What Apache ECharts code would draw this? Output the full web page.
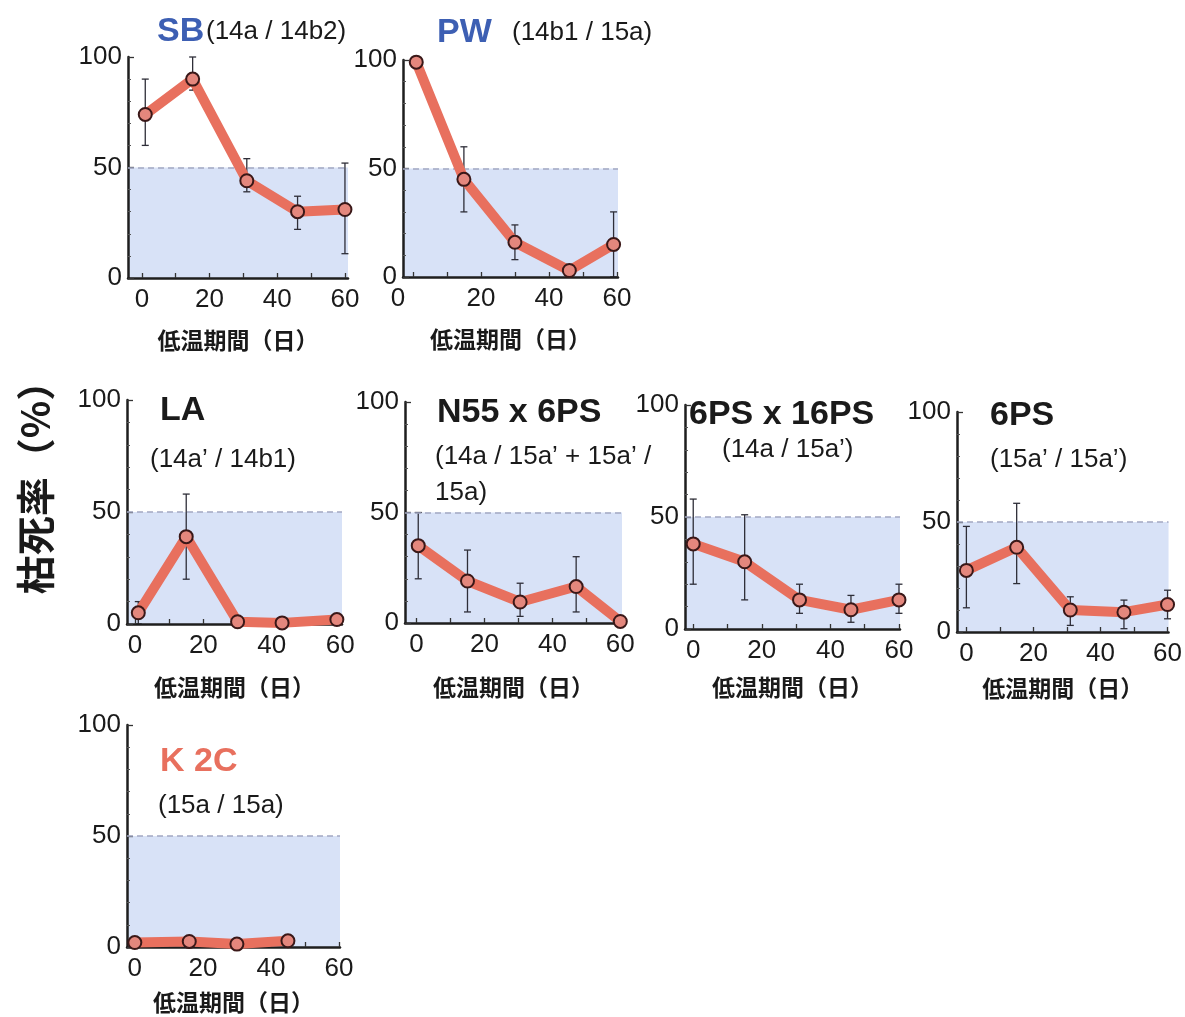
<!DOCTYPE html>
<html>
<head>
<meta charset="utf-8">
<script src="https://cdn.jsdelivr.net/npm/echarts@6/dist/echarts.min.js"></script>
<style>
  html, body { margin: 0; padding: 0; background: #ffffff; }
  #chart { width: 1185px; height: 1017px; }
</style>
</head>
<body>
<div id="chart"></div>
<script>
// ---- values: days of chilling and the resulting die-back rate (%) ----
const days_SB = [1, 15, 31, 46, 60];
const rate_SB = [74, 90, 44, 30, 31];
const errLo_SB = [60, 85, 39, 22, 11];
const errHi_SB = [90, 100, 54, 37, 52];

const days_PW = [1, 15, 30, 46, 59];
const rate_PW = [99, 45, 16, 3, 15];
const errLo_PW = [null, 30, 8, null, 0];
const errHi_PW = [null, 60, 24, null, 30];

const days_LA = [1, 15, 30, 43, 59];
const rate_LA = [5, 39, 1, 0.5, 2];
const errLo_LA = [0, 20, null, null, null];
const errHi_LA = [10, 58, null, null, null];

const days_N55 = [0.5, 15, 30.5, 47, 60];
const rate_N55 = [35, 19, 9.5, 16.5, 0.7];
const errLo_N55 = [20, 5, 3, 5, null];
const errHi_N55 = [50, 33, 18, 30, null];

const days_6PSx16PS = [0, 15, 31, 46, 60];
const rate_6PSx16PS = [38, 30, 13, 8.6, 13];
const errLo_6PSx16PS = [20, 13, 7, 3, 7];
const errHi_6PSx16PS = [58, 51, 20, 15, 20];

const days_6PS = [0, 15, 31, 47, 60];
const rate_6PS = [28, 38.5, 10, 9, 12.5];
const errLo_6PS = [11, 22, 3, 1.5, 6];
const errHi_6PS = [48, 58.5, 16, 14.5, 19];

const days_K2C = [0, 16, 30, 45];
const rate_K2C = [2, 2.5, 1.3, 2.8];
const errLo_K2C = [null, null, null, null];
const errHi_K2C = [null, null, null, null];

// ---- axis ticks ----
const yTickValues = [0, 50, 100];
const xLabelValues = [0, 20, 40, 60];
const xTickValues = [0, 10, 20, 30, 40, 50, 60];
const thresholdRate = 50;

const xName = '低温期間（日）';
const yName = '枯死率（%）';

// ---- panel layout ----
const panels = [
  { days: days_SB, rate: rate_SB, lo: errLo_SB, hi: errHi_SB,
    box: [128, 57, 220, 221], xr: [-4.1, 60.9], gap: 51 },
  { days: days_PW, rate: rate_PW, lo: errLo_PW, hi: errHi_PW,
    box: [403, 60, 215, 217], xr: [-2.9, 60.3], gap: 51, zeroLeft: true },
  { days: days_LA, rate: rate_LA, lo: errLo_LA, hi: errHi_LA,
    box: [127, 400, 215, 224], xr: [-2.3, 60.5], gap: 52 },
  { days: days_N55, rate: rate_N55, lo: errLo_N55, hi: errHi_N55,
    box: [405, 402, 217, 221], xr: [-3.4, 60.5], gap: 53 },
  { days: days_6PSx16PS, rate: rate_6PSx16PS, lo: errLo_6PSx16PS, hi: errHi_6PSx16PS,
    box: [685, 405, 215, 224], xr: [-2.4, 60.3], gap: 47 },
  { days: days_6PS, rate: rate_6PS, lo: errLo_6PS, hi: errHi_6PS,
    box: [957, 412, 215, 220], xr: [-2.8, 60.3], gap: 45 },
  { days: days_K2C, rate: rate_K2C, lo: errLo_K2C, hi: errHi_K2C,
    box: [127, 725, 213, 222], xr: [-2.3, 60.3], gap: 44 }
];

// ---- panel headings ----
const BLUE = '#3d5fb3';
const RED = '#e8705e';
const INK = '#1a1a1a';
const LATIN = "'Liberation Sans', Arial, Helvetica, sans-serif";
const CJK = "'Noto Sans CJK JP', 'Noto Sans CJK SC', sans-serif";

const headings = [
  { t: 'SB', x: 157, y: 32, bold: true, c: BLUE },
  { t: '(14a / 14b2)', x: 206, y: 32 },
  { t: 'PW', x: 437, y: 33, bold: true, c: BLUE },
  { t: '(14b1 / 15a)', x: 512, y: 33 },
  { t: 'LA', x: 160, y: 411, bold: true },
  { t: '(14a’ / 14b1)', x: 150, y: 460 },
  { t: 'N55 x 6PS', x: 437, y: 413, bold: true },
  { t: '(14a / 15a’ + 15a’ /', x: 435, y: 457 },
  { t: '15a)', x: 435, y: 493 },
  { t: '6PS x 16PS', x: 689, y: 415, bold: true },
  { t: '(14a / 15a’)', x: 722, y: 450 },
  { t: '6PS', x: 990, y: 416, bold: true },
  { t: '(15a’ / 15a’)', x: 990, y: 460 },
  { t: 'K 2C', x: 160, y: 762, bold: true, c: RED },
  { t: '(15a / 15a)', x: 158, y: 806 }
];

const grids = [], xAxes = [], yAxes = [], series = [];

panels.forEach((p, i) => {
  grids.push({ left: p.box[0], top: p.box[1], width: p.box[2], height: p.box[3], containLabel: false });

  const xLabel = { show: true, customValues: xLabelValues, margin: 9,
                   fontFamily: LATIN, fontSize: 26, color: INK };
  if (p.zeroLeft) {
    // the "0" of this panel sits tucked into the corner, left of its tick
    xLabel.formatter = v => (v === 0 ? '{z|0}' : String(v));
    xLabel.rich = { z: { fontFamily: LATIN, fontSize: 26, color: INK, padding: [0, 30, 0, 0] } };
  }

  xAxes.push({
    type: 'value', gridIndex: i, min: p.xr[0], max: p.xr[1], z: 4,
    name: xName, nameLocation: 'middle', nameGap: p.gap,
    nameTextStyle: { fontFamily: CJK, fontSize: 23, fontWeight: 'bold', color: INK },
    axisLine: { show: true, onZero: false, lineStyle: { color: '#1e1e1e', width: 2.5 } },
    axisTick: { show: true, inside: true, length: 5, customValues: xTickValues,
                lineStyle: { color: '#333', width: 1.3 } },
    axisLabel: xLabel,
    splitLine: { show: false }
  });

  yAxes.push({
    type: 'value', gridIndex: i, min: 0, max: 100, interval: 50, z: 4,
    axisLine: { show: true, onZero: false, lineStyle: { color: '#1e1e1e', width: 2.5 } },
    axisTick: { show: true, inside: true, length: 6, lineStyle: { color: '#333', width: 1.3 } },
    minorTick: { show: true, splitNumber: 5, length: 3, lineStyle: { color: '#555', width: 1 } },
    axisLabel: { show: true, margin: 6, fontFamily: LATIN, fontSize: 26, color: INK },
    splitLine: { show: false }
  });

  const pts = p.days.map((d, k) => [d, p.rate[k]]);
  const bars = [];
  p.days.forEach((d, k) => {
    if (p.lo[k] != null && p.hi[k] != null) bars.push([d, p.lo[k], p.hi[k]]);
  });

  // shaded band below the 50 % threshold, with its dashed limit line
  series.push({
    type: 'line', xAxisIndex: i, yAxisIndex: i, data: [], silent: true, z: 1,
    markArea: {
      silent: true,
      itemStyle: { color: '#d8e2f7' },
      data: [[{ yAxis: 0 }, { yAxis: thresholdRate }]]
    },
    markLine: {
      silent: true, symbol: 'none', label: { show: false },
      lineStyle: { color: '#a3a8c2', type: [6, 4], width: 1.6 },
      data: [{ yAxis: thresholdRate }]
    }
  });

  // error bars
  series.push({
    type: 'custom', xAxisIndex: i, yAxisIndex: i, z: 3, silent: true,
    data: bars,
    encode: { x: 0, y: [1, 2] },
    renderItem: function (params, api) {
      const x = api.value(0);
      const a = api.coord([x, api.value(1)]);
      const b = api.coord([x, api.value(2)]);
      const cap = 3.5;
      const st = { stroke: '#2e2e38', lineWidth: 1.3 };
      return {
        type: 'group',
        children: [
          { type: 'line', shape: { x1: a[0], y1: a[1], x2: b[0], y2: b[1] }, style: st },
          { type: 'line', shape: { x1: a[0] - cap, y1: a[1], x2: a[0] + cap, y2: a[1] }, style: st },
          { type: 'line', shape: { x1: b[0] - cap, y1: b[1], x2: b[0] + cap, y2: b[1] }, style: st }
        ]
      };
    }
  });

  // mean die-back rate
  series.push({
    type: 'line', xAxisIndex: i, yAxisIndex: i, z: 5, silent: true,
    data: pts,
    lineStyle: { color: RED, width: 10, cap: 'round', join: 'round' },
    symbol: 'circle', symbolSize: 13,
    itemStyle: { color: '#e4877d', borderColor: '#3a1818', borderWidth: 2 },
    animation: false
  });
});

const graphics = headings.map(h => ({
  type: 'text', x: h.x, y: h.y, silent: true,
  style: {
    text: h.t, textAlign: 'left', textVerticalAlign: 'middle',
    font: (h.bold ? 'bold 34px ' : '26px ') + LATIN,
    fill: h.c || INK
  }
}));

graphics.push({
  type: 'text', x: 35, y: 478, rotation: Math.PI / 2, silent: true,
  style: {
    text: yName, textAlign: 'center', textVerticalAlign: 'middle',
    font: 'bold 39px ' + CJK, fill: INK
  }
});

const chart = echarts.init(document.getElementById('chart'), null, { renderer: 'canvas' });
chart.setOption({
  animation: false,
  backgroundColor: '#ffffff',
  grid: grids,
  xAxis: xAxes,
  yAxis: yAxes,
  series: series,
  graphic: graphics
});
</script>
</body>
</html>
